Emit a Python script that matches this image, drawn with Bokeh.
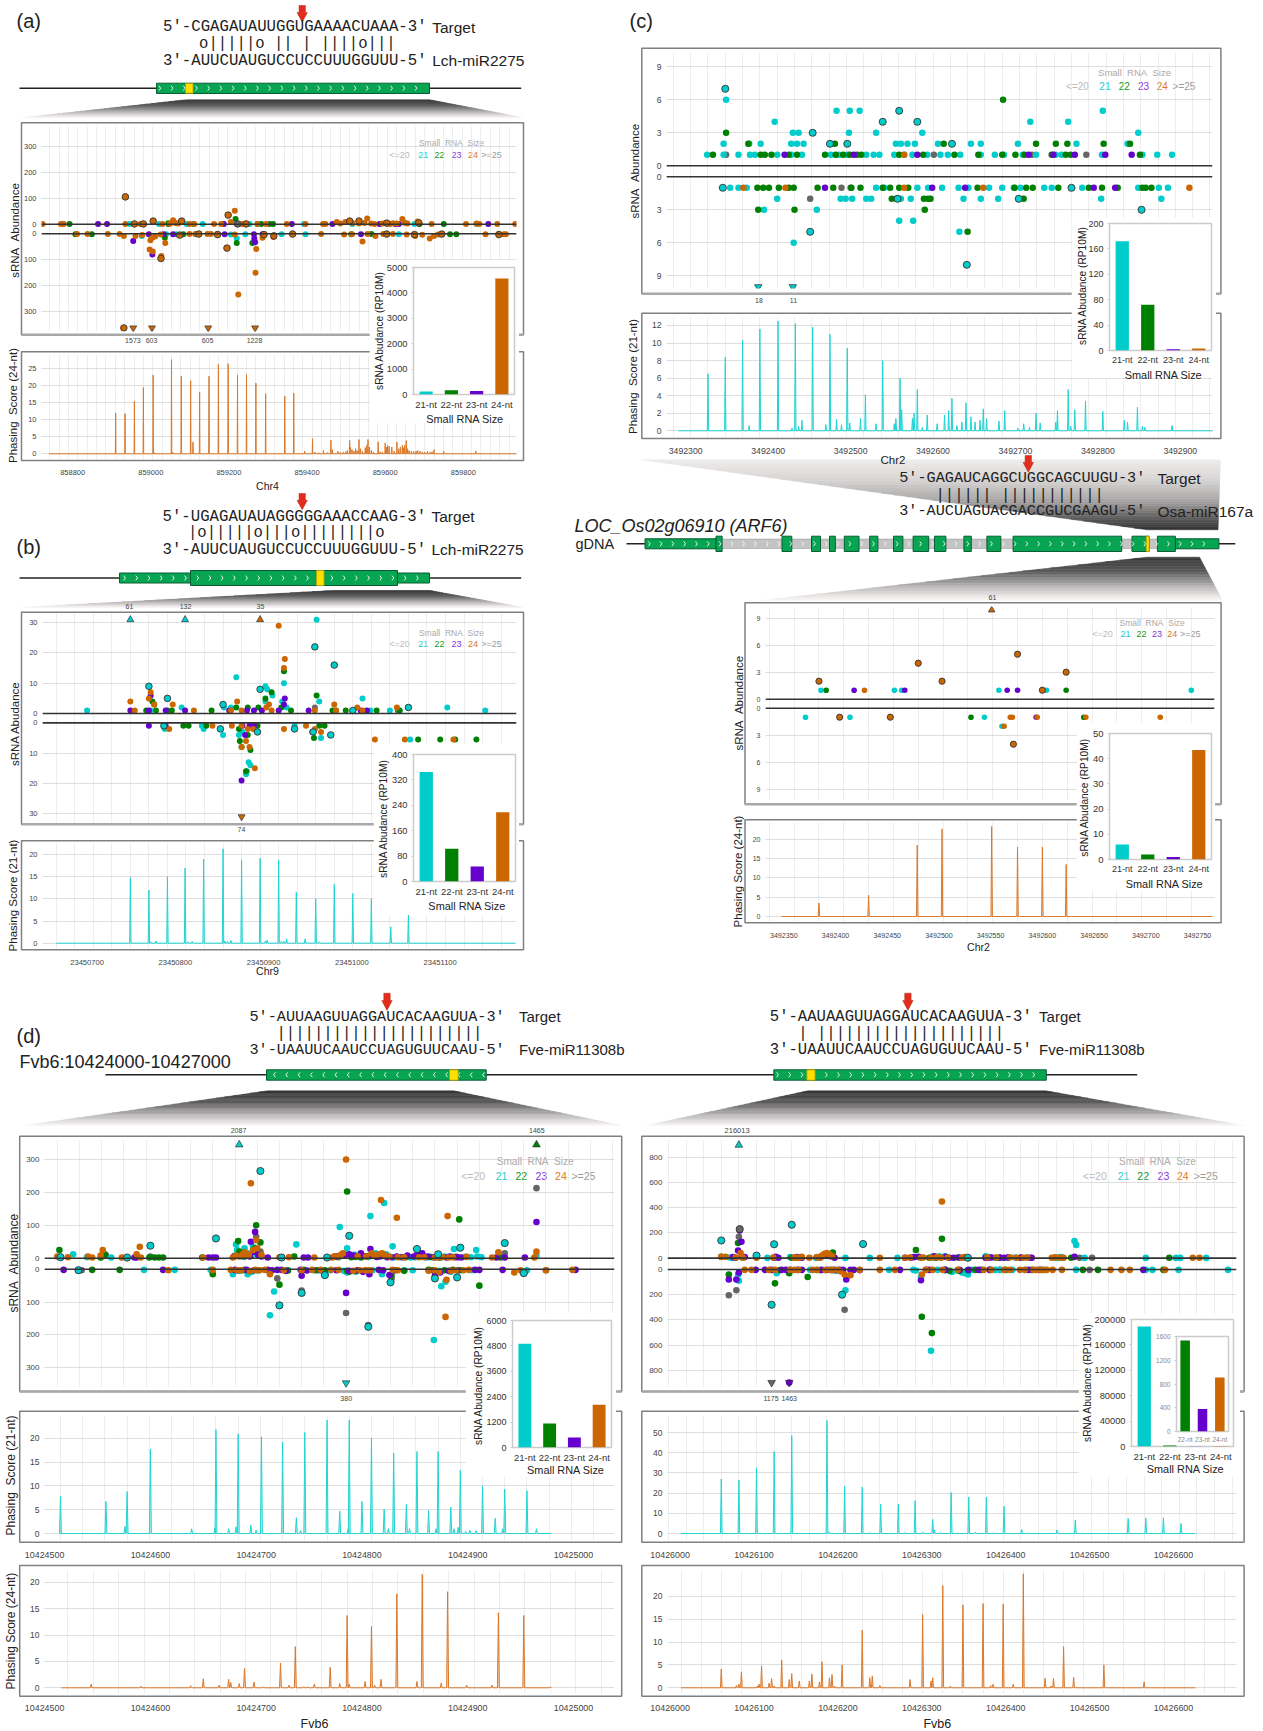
import math
import numpy as np
from bokeh.plotting import figure
from bokeh.models import GridBox, Range1d, FactorRange, FixedTicker, Span, Grid, BasicTickFormatter
from bokeh.core.properties import value
from bokeh.embed import file_html
from bokeh.resources import INLINE

# ------------------------------------------------------------------ data
sizes = ["21-nt", "22-nt", "23-nt", "24-nt"]
a_bars = [120, 170, 140, 4570]
b_bars = [345, 103, 47, 218]
c_bars = [172, 72, 2, 3]
c2_bars = [6, 2, 1, 43.5]
dl_bars = [4900, 1130, 470, 2020]
dr_bars = [189000, 1533, 378, 911]
dr_small_bars = [1533, 378, 911]

A_BASE, B_BASE, C_BASE, C2_BASE, DL_BASE, DR_BASE = 858615, 23450602, 3492219, 3492269, 10424458, 10425953

# panel (a): (bp offset, signed abundance), minus strand negative
a_21 = [(331,1),(406,1),(477,1),(518,1),(638,1),(777,1),(901,1),(1219,1),(1060,1),(362,-8),(424,-2),(450,-2),(605,-18),(627,-2),(720,-2),(781,-2),(1020,-2),(500,-2),(590,-3)]
a_22 = [(177,1),(430,1),(494,1),(658,1),(689,1),(698,1),(1135,1),(1073,1),(602,20),(668,1),(430,4),(192,-2),(234,-2),(421,-15),(468,-2),(605,-35),(645,-35),(898,-2),(1151,-2),(1167,-2),(950,-1),(1276,-2)]
a_23 = [(250,1),(273,1),(572,1),(746,1),(850,1),(971,1),(1011,1),(1020,1),(1249,1),(340,-28),(389,-80),(380,-2),(418,-2),(442,-2),(574,-2),(649,-2),(652,-32),(671,-2),(923,-2),(650,-18)]
a_24 = [(108,1),(155,1),(162,1),(320,1),(358,1),(415,1),(434,2),(442,15),(448,5),(455,3),(484,1),(496,1),(547,1),(565,1),(590,8),(600,52),(618,1),(658,1),(680,1),(733,1),(781,1),(826,1),(832,1),(861,8),(870,3),(883,8),(901,5),(918,3),(932,5),(939,22),(949,3),(958,1),(998,1),(1015,3),(1029,20),(1042,3),(1068,10),(1104,1),(1192,1),(1219,3),(1226,1),(1272,1),(1318,1),(1035,6),(978,3),(1005,4),
        (196,-1),(223,-1),(275,-1),(305,-1),(316,-8),(346,-8),(384,-25),(389,-15),(382,-60),(390,-68),(412,-85),(422,-35),(484,-1),(499,-1),(530,-1),(539,-1),(556,-1),(609,-233),(653,-150),(655,-58),(671,-15),(699,-12),(600,-3),(821,-1),(927,-30),(880,-3),(900,-2),(940,-1),(960,-8),(980,-1),(1005,-1),(1040,-3),(1062,-8),(1080,-4),(1099,-18),(1110,-8),(1120,-3),(1242,-2),(1289,-2),(1294,-2),(410,-3),(396,-10),(363,-5)]
a_gray = [(607,1)]
a_out = [(343,1,"24"),(366,1,"24"),(391,12,"24"),(464,12,"24"),(583,35,"24"),(320,105,"24"),(629,1,"24"),(894,12,"24"),(918,12,"24"),(607,1,"g"),(989,4,"24"),(1071,5,"24"),(411,-95,"24"),(580,-55,"24"),(459,-5,"24"),(508,-1,"24"),(556,-3,"24"),(675,-3,"24"),(700,-8,"24"),(748,-1,"24"),(989,-1,"24"),(1060,-3,"24"),(1130,-1,"24"),(1276,-3,"24"),(316,-362,"24")]
a_tri = [(340,-362,"24"),(388,-362,"24"),(532,-362,"24"),(652,-362,"24")]
a_phase = [(295,12),(319,11.8),(343,15.5),(366,19.5),(391,23.2),(438,27.7),(463,22.8),(487,21.5),(493,3.5),(510,18.2),(534,22.8),(558,26.3),(583,26.5),(607,23.2),(630,23.3),(654,20.8),(679,17.7),(728,17),(751,17.8),(779,.8),(799,4.5),(827,1),(846,4),(864,.8),(894,4),(896,2),(909,1.5),(918,4.2),(934,1.8),(941,4.2),(967,3.5),(985,3.2),(991,2.5),(1002,2),(1015,3.5),(1029,2.5),(1035,2.5),(1039,3.9),(1046,1),(1068,1),(1093,.7),(1110,1.2),(1135,.7),(1217,.8),(393,.4),(441,.5),
           (805,.5),(815,.3),(838,.4),(850,1.2),(870,.4),(878,.5),(884,.6),(888,1),(900,1.3),(905,.8),(913,1),(922,1.5),(927,.7),(938,2.5),(945,2),(950,1),(955,.5),(972,.6),(978,.5),(988,2),(995,2.2),(1008,.8),(1020,1.5),(1024,2),(1032,1.8),(1042,1.5),(1052,.8),(1058,.7),(1064,.8),(1074,.8),(1080,.5),(1086,.5),(1100,.5),(1105,.6)]

# panel (b)
b_21 = [(98,1),(170,1),(205,2),(253,2),(267,12),(261,2),(300,9),(302,8),(308,6),(300,4),(319,4),(321,10),(324,2),(361,4),(419,1),(441,1),(452,1),(506,2),(549,1),(358,31),(410,5),(186,-2),(228,-1),(230,-2),(270,-4),(274,-3),(279,-16),(281,-13),(283,-14),(278,-17),(333,-1),(353,-3),(363,-5),(464,-5.5),(252,-4)]
b_22 = [(165,1),(174,3),(176,1),(172,4),(189,1),(194,1),(239,1),(267,2),(280,2),(292,2),(300,5),(307,7),(318,2),(321,14),(329,1),(358,6),(376,1),(380,1),(391,1),(426,1),(452,1),(207,-1),(213,-1),(233,-1),(270,-2),(271,-6),(280,-4),(283,-9),(291,-1),(273,-8),(278,-16),(355,-5),(361,-1),(367,-1),(473,-5.5),(498,-5.5),(515,-5.5),(539,-5.5)]
b_23 = [(147,1),(168,1),(170,6),(187,1),(209,1),(259,1),(287,1),(279,1),(296,1),(315,1),(322,5),(321,3),(349,1),(408,1),(415,1),(168,-1),(187,-1),(274,-1),(282,-1),(287,-1),(273,-19),(277,-4)]
b_24 = [(147,4),(152,1),(168,5),(170,7),(174,3),(195,3),(219,1),(261,1),(268,4),(273,1),(304,3),(301,2),(307,1),(321,15),(322,18),(315,29),(356,1),(378,3),(380,1),(404,2),(410,1),(449,2),(191,-2),(240,-1),(262,-1),(273,-1),(280,-2),(286,-2),(288,-15),(273,-8),(278,-6),(282,-8),(321,-2),(346,-1),(356,-2),(363,-3),(424,-5.5),(458,-5.5),(513,-5.5)]
b_gray = [(356,2),(450,1)]
b_out = [(168,9,"21"),(378,16,"21"),(356,22,"21"),(189,5,"21"),(252,3,"21"),(294,8,"21"),(399,1,"21"),(462,2,"21"),(185,-1,"21"),(249,-2,"21"),(291,-3,"21"),(333,-2,"21"),(354,-3,"21"),(374,-4,"21")]
b_tri = [(147,31,"21"),(209,31,"21"),(294,31,"24"),(273,-31,"24")]
b_phase = [(147,14.8),(168,12),(189,15),(209,17),(230,19),(252,21.3),(273,18.8),(294,19.2),(315,18.8),(335,11.5),(357,10),(378,13.3),(399,11.2),(420,10),(442,3.7),(462,6.8),(170,.3),(176,.5),(212,.3),(217,.4),(254,.5),(257,.4),(261,.6),(300,.5),(302,.7),(318,.4),(321,.4),(324,1),(345,1),(349,.2),(361,.3)]

# panel (c) upper
c_21 = [(107,1),(127,1),(145,1),(159,1),(165,1),(192,1),(209,1),(222,1),(257,1),(267,1),(277,1),(300,1),(309,1),(316,1),(334,1),(346,1),(356,1),(374,1),(390,1),(399,1),(414,1),(439,1),(456,1),(467,1),(490,1),(506,1),(530,1),(537,1),(586,1),(635,1),(653,1),(671,1),
        (127,2),(172,2),(209,2),(216,2),(224,2),(336,2),(342,2),(350,2),(359,2),(387,2),(427,2),(439,2),(484,2),(555,2),(617,2),(158,2),(211,3),(218,3),(279,3),(312,3),(368,3),(630,3),(189,4),(499,4),(545,4),(264,5),(280,5),(292,5),(587,5),(130,6),
        (135,-1),(145,-1),(155,-1),(312,-1),(322,-1),(362,-1),(392,-1),(412,-1),(424,-1),(449,-1),(465,-1),(479,-1),(487,-1),(516,-1),(525,-1),(562,-1),(630,-1),(655,-1),(666,-1),(375,-1),
        (192,-2),(269,-2),(275,-2),(283,-2),(300,-2),(306,-2),(342,-2),(354,-2),(418,-2),(439,-2),(460,-2),(585,-2),(658,-2),(176,-3),(240,-3),(340,-4),(357,-4),(413,-5),(212,-6)]
c_22 = [(114,1),(172,1),(177,1),(185,1),(206,1),(216,1),(250,1),(263,1),(272,1),(280,1),(289,1),(294,1),(340,1),(369,1),(407,1),(436,1),(465,1),(481,1),(492,1),(525,1),(542,1),(548,1),(632,1),(157,2),(262,2),(394,2),(506,2),(530,2),(544,2),(588,2),(620,2),(130,3),(466,6),
        (168,-1),(175,-1),(182,-1),(194,-1),(206,-1),(212,-1),(241,-1),(260,-1),(282,-1),(293,-1),(320,-1),(329,-1),(340,-1),(351,-1),(435,-1),(480,-1),(494,-1),(502,-1),(533,-1),(570,-1),(586,-1),(605,-1),(635,-1),(639,-1),(646,-1),
        (331,-2),(337,-2),(370,-2),(375,-2),(378,-2),(491,-2),(169,-3),(213,-3),(371,-3),(423,-5)]
c_23 = [(201,1),(362,1),(497,1),(527,1),(553,1),(590,1),(622,1),(285,1),(250,-1),(420,-1),(380,-1),(576,-1),(602,-1)]
c_24 = [(346,1),(151,-1),(202,-1),(346,-1),(442,-1),(692,-1)]
c_gray = [(130,1),(382,1),(501,1),(567,1),(270,-1),(281,-1),(232,-2)]
c_out = [(256,2,"21"),(277,2,"21"),(404,2,"21"),(235,3,"21"),(320,4,"21"),(362,4,"21"),(340,5,"21"),(129,7,"21"),(126,-1,"21"),(549,-1,"21"),(485,-2,"21"),(338,-2,"21"),(634,-3,"21"),(232,-5,"21"),(422,-8,"21")]
c_tri = [(169,-10,"21"),(211,-10,"21")]
c_phase = [(108,6.5),(129,8.4),(150,10.3),(158,.6),(171,11.6),(193,12.5),(214,12.2),(210,.3),(218,.5),(222,1.2),(235,11.8),(251,.7),(256,11),(264,1.3),(270,.7),(277,9.4),(280,.9),(293,1.4),(299,4.1),(312,.8),(320,8),(334,.8),(336,1.4),(341,6),(343,2.4),(356,1.4),(358,2),(362,4.7),(368,.4),(374,1.8),(386,.8),(395,1.8),(400,2.3),(404,3.7),(410,.6),(416,1),(421,3.2),(427,1.6),(432,1),(438,1.2),(442,2.5),(446,1.4),(461,1.1),(468,2.3),(484,.3),(491,.8),(498,.4),(506,2),(511,.9),(530,1),(532,2.3),(545,4.7),(548,.5),(553,2.4),(566,3.4),(587,2.2),(613,1.2),(617,1),(629,2.7),(635,.5),(638,.4),(671,.6)]

# panel (c) lower gene
c2_21 = [(117,1),(188,1),(195,1),(289,1),(335,1),(475,1),(102,-1),(145,-1),(275,-1),(292,-2)]
c2_22 = [(122,1),(354,1),(262,-1),(371,-1)]
c2_23 = [(149,1),(198,1),(297,1),(307,1),(325,-1)]
c2_24 = [(159,1),(300,-1),(302,-1),(294,-2),(326,-1),(373,-1),(445,-1)]
c2_gray = []
c2_out = [(115,2,"24"),(211,4,"24"),(234,2,"24"),(307,5,"24"),(331,1,"24"),(354,3,"24"),(135,-1,"24"),(184,-1,"24"),(303,-4,"24")]
c2_tri = [(282,9.9,"24")]
c2_phase = [(115,3.5),(163,5.5),(210,18.5),(234,22.7),(282,23.3),(307,18),(331,18),(354,13.5)]

# panel (d) left
dl_21 = [(69,12),(82,3),(105,2),(224,25),(231,30),(223,42),(239,35),(280,42),(321,95),(328,30),(350,128),(363,168),(355,15),(371,36),(372,2),(388,2),(403,2),(429,28),(450,25),(451,5),(507,8),
         (222,8),(226,12),(229,5),(234,15),(238,10),(244,8),(320,3),(325,8),(335,10),(340,5),(348,4),(356,5),(360,8),(365,12),(378,3),(384,4),(392,3),(398,4),(408,3),(412,3),(420,5),(427,4),(440,4),(445,3),(455,3),
         (74,-3),(136,-2),(165,-2),(199,-2),(220,-15),(234,-15),(259,-68),(255,-140),(301,-3),(307,-15),(361,-15),(328,-10),(382,-3),(390,-3),(417,-52),(421,-38),(410,-215),(446,-3),(498,-3),
         (226,-5),(238,-8),(245,-3),(272,-3),(297,-3),(312,-3),(325,-5),(336,-8),(352,-3),(415,-5),(426,-8),(436,-3)]
dl_22 = [(56,25),(99,12),(95,2),(141,2),(146,2),(150,2),(154,2),(191,2),(225,52),(242,100),(246,48),(231,5),(241,30),(278,5),(266,2),(328,203),(332,3),(341,2),(434,118),(415,2),(473,2),
         (226,20),(234,8),(243,18),(319,4),(336,4),(347,6),(366,4),(383,3),(406,4),(416,3),(431,4),
         (74,-3),(87,-2),(113,-2),(201,-15),(231,-2),(264,-47),(287,-2),(307,-3),(328,-5),(370,-20),(382,-5),(405,-2),(428,-2),(453,-50),
         (229,-3),(243,-3),(272,-4),(299,-3),(330,-8),(337,-5),(374,-3),(409,-3),(420,-3),(434,-3)]
dl_23 = [(127,2),(129,2),(197,2),(201,2),(204,2),(237,50),(241,80),(247,5),(253,2),(287,2),(291,2),(326,10),(341,15),(350,28),(359,5),(366,3),(380,3),(394,10),(399,15),(422,2),(436,2),(469,2),(477,2),(496,2),(507,110),
         (221,5),(228,8),(232,12),(236,5),(240,20),(244,10),(318,5),(330,12),(334,8),(344,6),(352,8),(356,4),(362,10),(370,3),(375,5),(385,8),(391,5),(404,5),(410,3),(416,4),(425,5),(430,3),(433,3),
         (60,-2),(154,-2),(253,-2),(266,-2),(285,-20),(284,-2),(349,-15),(358,-2),(368,-18),(411,-20),(453,-2),(475,-2),(544,-2),(327,-72),(222,-2),(233,-2),(262,-2),
         (224,-3),(240,-3),(257,-3),(270,-5),(290,-4),(303,-3),(318,-3),(330,-5),(338,-3),(343,-8),(362,-3),(372,-3),(412,-8),(416,-10),(424,-5),(432,-3),(449,-2)]
dl_24 = [(54,5),(64,3),(83,5),(87,2),(97,25),(95,8),(115,2),(129,12),(132,35),(133,2),(192,2),(220,2),(226,5),(233,8),(237,228),(242,55),(247,10),(264,3),(273,3),(297,2),(314,2),(320,5),(327,300),(322,10),(351,15),(361,15),(360,177),(375,123),(376,3),(401,3),(423,128),(411,2),(424,2),(465,2),(471,18),(507,20),(505,2),
         (223,8),(229,10),(231,18),(235,10),(239,25),(243,30),(316,6),(324,15),(338,6),(346,5),(354,8),(358,12),(364,8),(368,5),(382,3),(396,3),(414,3),(418,3),(428,3),(441,4),
         (159,-3),(201,-2),(218,-2),(224,-3),(241,-2),(255,-15),(295,-2),(313,-2),(320,-2),(345,-3),(347,-3),(371,-2),(411,-3),(421,-145),(422,-32),(438,-3),(486,-10),(492,-3),(516,-3),(541,-2),
         (228,-3),(236,-6),(245,-3),(250,-2),(268,-3),(285,-3),(303,-2),(334,-5),(340,-3),(350,-3),(376,-3),(405,-5),(415,-8),(426,-5),(431,-3),(443,-2)]
dl_gray = [(100,8),(142,5),(225,15),(242,65),(246,20),(394,5),(477,15),(507,213),(77,-3),(262,-28),(285,-65),(327,-133),(348,-170),(370,-30),(516,-3)]
dl_out = [(57,3,"21"),(120,2,"21"),(142,38,"21"),(204,60,"21"),(246,265,"21"),(266,2,"21"),(309,2,"21"),(330,68,"21"),(394,28,"21"),(414,12,"21"),(435,32,"21"),(477,46,"21"),(285,-72,"21"),(264,-110,"21"),(348,-175,"21"),(369,-40,"21"),(411,-28,"21"),(432,-25,"21"),(307,-18,"21"),(495,-12,"21"),(74,-3,"21")]
dl_tri = [(226,345,"21"),(507,345,"22"),(327,-346,"21")]
dl_p21 = [(57,7.8),(100,6.7),(118,1.5),(120,8.8),(142,17.7),(181,1),(203,1.2),(204,21.8),(216,1),(223,1.4),(225,20.9),(237,1.8),(242,.7),(247,20.3),(267,19.2),(280,3.3),(284,.6),(288,21.2),(309,23.8),(321,4.7),(329,1),(330,23.8),(342,6.7),(351,20),(363,5.1),(367,1),(372,16.9),(384,6.1),(387,1),(394,17.2),(405,4.8),(412,1),(414,17.2),(426,5.5),(429,1),(433,1.3),(435,13.3),(440,.4),(444,.7),(450,.6),(456,10),(468,3.2),(475,1),(477,9.3),(498,9),(507,1)]
dl_p24 = [(86,.7),(133,.3),(180,.4),(192,1.7),(207,.5),(216,1.6),(218,1),(226,.8),(231,3.7),(240,1.1),(249,.2),(265,4.7),(273,.5),(279,7.8),(287,.2),(291,.2),(297,.7),(312,3.9),(321,.8),(328,13.7),(330,.7),(345,1.2),(351,11.6),(354,.5),(360,1.6),(375,17.8),(394,1.2),(399,21.5),(417,.9),(423,18.2),(441,.5),(465,.5),(471,14.2),(495,13.7),(520,.2)]

# panel (d) right
dr_21 = [(121,2),(163,2),(221,2),(256,2),(285,2),(318,2),(375,15),(423,15),(509,2),(529,135),(531,105),(541,2),(614,2),(650,2),(655,2),(686,2),
         (118,5),(190,8),(229,15),(236,18),(345,5),(360,12),(368,15),(398,5),(428,8),(458,5),(472,5),(505,3),(512,8),
         (128,-40),(129,-90),(174,-30),(256,-165),(358,-645),(346,-60),(337,-3),(366,-3),(383,-20),(399,-30),(435,-3),(455,-3),(531,-3),(614,-3),(622,-3),(653,-3),(712,-3),(214,-3),(308,-3),
         (175,-10),(222,-3),(238,-3),(245,-10),(340,-8),(375,-5),(390,-10),(395,-25),(402,-40),(398,-20),(408,-3),(440,-3),(470,-3)]
dr_22 = [(108,10),(128,120),(241,45),(371,153),(340,65),(356,3),(435,3),(525,3),(642,3),(192,3),(133,5),(200,5),(237,25),(365,5),(390,5),(440,3),(450,3),(465,3),(515,3),
         (117,-40),(172,-110),(189,-30),(211,-60),(347,-375),(359,-505),(380,-10),(402,-5),(411,-3),(539,-3),(557,-3),(635,-3),
         (178,-5),(226,-5),(240,-5),(250,-5),(375,-3),(392,-10),(418,-3),(428,-3),(447,-3),(478,-3),(490,-3)]
dr_23 = [(130,220),(132,130),(128,60),(125,3),(171,3),(176,3),(204,3),(243,3),(327,3),(334,3),(423,3),(445,3),(476,3),(529,10),(380,3),(385,3),(426,3),
         (122,8),(136,8),(173,10),(198,8),(225,6),(232,25),(238,15),(338,8),(343,10),(362,15),(375,10),(392,5),(430,5),(440,5),(450,6),(465,5),(478,3),
         (117,-80),(126,-80),(129,-25),(149,-3),(168,-3),(180,-3),(185,-3),(204,-3),(228,-3),(248,-3),(257,-80),(266,-3),(273,-5),(321,-3),(346,-85),(356,-3),(392,-3),(428,-3),(474,-3),(611,-3),(189,-898),
         (160,-3),(190,-3),(199,-3),(234,-3),(243,-3),(253,-3),(262,-3),(352,-3),(375,-3),(403,-3),(415,-3),(487,-3)]
dr_24 = [(108,10),(150,3),(131,40),(134,3),(195,3),(200,3),(213,3),(226,3),(234,40),(231,35),(297,3),(346,3),(358,3),(371,450),(370,3),(395,3),(460,3),(468,3),(502,3),(516,3),(670,3),(678,3),(327,3),
         (113,10),(125,5),(170,5),(196,5),(204,10),(222,8),(228,20),(237,30),(240,15),(333,5),(349,5),(365,8),(378,5),(398,8),(425,6),(436,5),(452,6),(473,5),(506,6),(511,3),
         (136,-3),(190,-3),(217,-3),(241,-3),(255,-40),(262,-45),(273,-3),(297,-3),(315,-3),(347,-40),(421,-3),(445,-3),(464,-3),(496,-3),(503,-3),(514,-3),(572,-3),(585,-3),(595,-3),(637,-3),(488,-3),
         (144,-3),(165,-3),(172,-3),(195,-3),(200,-3),(222,-3),(232,-5),(238,-3),(247,-5),(250,-15),(352,-3),(360,-3),(372,-3),(390,-3),(430,-3),(452,-3),(470,-3),(480,-3),(483,-3),(493,-3)]
dr_gray = [(129,170),(535,3),(550,3),(363,3),(117,-205),(126,-165),(255,-320),(547,-3),(440,-3)]
dr_out = [(108,140,"21"),(171,110,"21"),(192,265,"21"),(277,112,"21"),(150,20,"21"),(402,3,"21"),(168,-280,"21"),(252,-200,"21"),(130,230,"g")]
dr_tri = [(129,898,"21"),(168,-898,"g"),(189,-898,"23")]
dr_p21 = [(108,27),(129,26.5),(150,32.5),(171,40.5),(192,48.5),(234,56),(237,.8),(255,23.5),(276,23),(285,.5),(298,14.5),(319,14.5),(327,.5),(339,16.3),(348,.8),(360,7),(362,1.8),(369,.5),(382,20.3),(403,18),(411,.7),(424,18),(432,.4),(445,13.5),(466,2),(474,.3),(508,1.7),(530,6.7),(593,7.5),(614,7.7),(635,7.8),(656,5)]
dr_p24 = [(108,4.1),(126,.5),(129,.8),(132,3.5),(151,.4),(153,.8),(156,4.8),(165,1),(168,2),(171,.4),(180,6.1),(189,1.8),(192,3.1),(201,1.5),(213,1.5),(216,3),(225,1.3),(228,5.7),(237,2.2),(240,2.9),(243,.4),(252,5),(276,12.6),(285,2.2),(288,2.6),(297,.5),(333,1.8),(348,16),(358,1.5),(360,2.2),(372,22.3),(381,.4),(396,18.1),(420,18.4),(429,.5),(432,.8),(444,18.3),(456,.8),(468,24.9),(494,2.1),(501,.4),(504,2),(516,9),(528,2.3),(564,5),(612,1.3)]

# ------------------------------------------------------------------ styles
COL = {"21": "#00cccc", "22": "#008000", "23": "#6600cc", "24": "#cc6600", "g": "#666666"}
SANS = "Liberation Sans"
MONO = "Liberation Mono"
PHASE_CYAN = "#22d4d4"
PHASE_ORANGE = "#d97a2e"
NB = "\u00a0\u00a0"
figs = []

# ------------------------------------------------------------------ page layer
def sheet():
    f = figure(width=1263, height=1731, x_range=Range1d(0, 1263), y_range=Range1d(1731, 0),
               output_backend="svg", toolbar_location=None, min_border=0, outline_line_color=None, frame_align=False,
               background_fill_color=None, border_fill_color=None)
    f.axis.visible = False
    f.grid.visible = False
    figs.append((f, 0, 0))
    return f

page = sheet()

def T(x, y, s, size=10, color="#222222", font=SANS, align="left", angle=0, style="normal", on=None):
    (on or page).text([x], [y], text=[s], text_font=value(font), text_font_size=f"{size}px", text_color=color,
                      text_align=align, text_baseline="middle", angle=angle, text_font_style=style)

def VT(x, y, s, size=11.5):
    T(x, y, s, size=size, align="center", angle=math.pi / 2)

def funnel(tl, tr, bl, br, yt, yb, stops, n=28):
    sx = np.array([s[0] for s in stops]); 
    for i in range(n):
        f0, f1 = i / n, (i + 1) / n
        y0, y1 = yt + (yb - yt) * f0, yt + (yb - yt) * f1
        l0, l1 = tl + (bl - tl) * f0, tl + (bl - tl) * f1
        r0, r1 = tr + (br - tr) * f0, tr + (br - tr) * f1
        g = np.interp((f0 + f1) / 2, sx, [s[1] for s in stops])
        c = "#%02x%02x%02x" % (int(g), int(g * .985), int(g * .985))
        page.patch([l0, r0, r1, l1], [y0, y0, y1, y1], fill_color=c, line_color=c, line_width=.5)

FUN = [(0, 52), (.35, 95), (.7, 185), (1, 250)]

def red_arrow(x, y0, y1):
    h = y1 - y0
    page.patch([x - 3.2, x + 3.2, x + 3.2, x + 5.2, x, x - 5.2, x - 3.2],
               [y0, y0, y0 + h * .42, y0 + h * .42, y1, y0 + h * .42, y0 + h * .42],
               fill_color="#e22d1c", line_color="#b5281c", line_width=.5)

def seq(x, ys, lines, pair_x, tx, names, size, pair_size=15.6, name_size=15.5):
    T(x, ys[0], lines[0], size=size, font=MONO, color="#222222")
    T(pair_x, ys[1], lines[1], size=pair_size, font=MONO, color="#222222")
    T(x, ys[2], lines[2], size=size, font=MONO, color="#222222")
    T(tx, ys[0], names[0], size=name_size)
    T(tx, ys[2], names[1], size=name_size)

def gene_line(x0, x1, y):
    page.line([x0, x1], [y, y], line_color="#222222", line_width=1.5)

def exon(x0, x1, y0, y1, fill="#07a552"):
    page.quad(left=[x0], right=[x1], top=[y0], bottom=[y1], fill_color=fill, line_color="#0a5c36", line_width=1)

def chev(x0, x1, y, step, right=True, h=2.4, w=1.8):
    xs, ys = [], []
    for cx in np.arange(x0, x1, step):
        d = w if right else -w
        xs.append([cx - d / 2, cx + d / 2, cx - d / 2])
        ys.append([y - h, y, y + h])
    page.multi_line(xs, ys, line_color="#ffffff", line_width=.9)

def yellow(x0, x1, y0, y1):
    page.quad(left=[x0], right=[x1], top=[y0], bottom=[y1], fill_color="#ffdf00", line_color="#b8a000", line_width=.8)

def box(l, r, t, b, thick=False):
    page.quad(left=[l], right=[r], top=[t], bottom=[b], fill_color=None, line_color="#808080", line_width=1.5)
    if thick:
        page.line([l, r], [b, b], line_color="#a8a8a8", line_width=2.6)

def legend(cx, ty, ly, xs, size):
    T(cx, ty, f"Small{NB}RNA{NB}Size", size=size, color="#aaaaaa", align="center")
    labs = ["<=20", "21", "22", "23", "24", ">=25"]
    cols = ["#bbbbbb", "#22cccc", "#119911", "#8833dd", "#dd7722", "#999999"]
    for x, s, c in zip(xs, labs, cols):
        T(x, ly, s, size=size + .5, color=c, align="center")

def small(x, y, s, size=7):
    T(x, y, s, size=size, color="#444444", align="center")

# ---- (a)
T(16, 20, "(a)", size=20)
red_arrow(301.7, 5, 21.7)
seq(162.5, (26.7, 43.3, 60), ("5'-CGAGAUAUUGGUGAAAACUAAA-3'", "o|||||o || | ||||o|||", "3'-AUUCUAUGUCCUCCUUUGGUUU-5'"), 198.6, 431.7, ("Target", "Lch-miR2275"), 15.7)
gene_line(19, 520.7, 87.7); exon(156, 429, 82.7, 93); chev(159.3, 425, 87.7, 12.2); yellow(185, 192.5, 83, 92.7)
funnel(186, 429, 21, 523, 99.3, 117.3, FUN)
T(267, 485, "Chr4", size=10.5, align="center")
VT(14.5, 230, f"sRNA{NB}Abundance"); VT(12.8, 405, f"Phasing{NB}Score (24-nt)")
box(21, 523, 122.3, 334.3, True); box(21, 523, 351.3, 460)
legend(451, 142.7, 154.7, [399, 422.8, 439, 456, 472.4, 491], 8.5)
for x, s in [(132.4, "1573"), (151, "603"), (207, "605"), (254, "1228")]:
    small(x, 340.3, s)

# ---- (b)
T(16, 546, "(b)", size=20)
red_arrow(301.7, 493, 509.3)
seq(162, (516, 532.5, 549), ("5'-UGAGAUAUAGGGGGAAACCAAG-3'", "|o|||||o|||o||||||||o", "3'-AUUCUAUGUCCUCCUUUGGUUU-5'"), 187.5, 431, ("Target", "Lch-miR2275"), 15.7)
gene_line(19, 520.7, 577.5); exon(119, 429, 572.5, 582.5); exon(190, 397, 570, 585); chev(124, 425, 577.5, 12.2); yellow(316, 323.5, 570, 585)
funnel(334, 429, 21, 523, 590, 607, FUN)
for x, s in [(129, "61"), (185, "132"), (260, "35")]:
    small(x, 606, s)
small(241, 829.3, "74")
T(267, 970, "Chr9", size=10.5, align="center")
VT(14.5, 723, "sRNA Abudance"); VT(12.8, 895, "Phasing Score (21-nt)")
box(21, 523, 611.7, 823.7, True); box(21, 523, 840.3, 949.3)
legend(451, 632.7, 643.7, [399, 422.8, 439, 456, 472.4, 491], 8.5)

# ---- (c)
T(629, 20, "(c)", size=20)
VT(634.8, 170.7, f"sRNA{NB}Abundance"); VT(632.3, 376, f"Phasing{NB}Score (21-nt)")
box(641.3, 1220.4, 47.7, 293.3, True); box(641.3, 1220.4, 312.7, 438)
legend(1134, 71.7, 85.7, [1077, 1104.4, 1123.7, 1143, 1161.8, 1183.5], 9.5)
small(758.5, 300, "18"); small(793, 300, "11")
funnel(640.5, 1220, 1146.6, 1217.5, 459.3, 529.3, [(0, 240), (.3, 215), (.6, 165), (.85, 90), (1, 50)], n=40)
T(892.5, 459, "Chr2", size=11.5, align="center")
red_arrow(1027.8, 455, 471.7)
seq(898.7, (477.7, 495, 510.7), ("5'-GAGAUCAGGCUGGCAGCUUGU-3'", "|||||| |||||||||||", "3'-AUCUAGUACGACCGUCGAAGU-5'"), 935, 1157, ("Target", "Osa-miR167a"), 15.2)
T(574, 525, "LOC_Os02g06910 (ARF6)", size=18, style="italic")
T(575, 543, "gDNA", size=14.5)
gene_line(626, 1234.8, 543.3)
page.quad(left=[644.6], right=[1218], top=[538.6], bottom=[548], fill_color="#c4c4c4", line_color="#a0a0a0", line_width=.6)
exon(644.6, 715.5, 538.3, 548.3); exon(1174.9, 1218.4, 538.3, 548.3)
for l, r in [(715.5, 721.6), (781.5, 791.3), (811, 820), (829, 834.8), (843.8, 858.5), (869.2, 877.4), (893, 902.4), (912.6, 928.2), (934, 945.4), (963.4, 970.8), (986.4, 1000.3), (1012.6, 1121.2), (1131.5, 1148.7), (1156.9, 1174.9)]:
    exon(l, r, 535.7, 551)
chev(648.7, 1215, 543.3, 11.8)
yellow(1145.8, 1148.7, 535.7, 551)
funnel(1146.6, 1199, 760, 1222, 556.7, 600, [(0, 52), (.35, 95), (.7, 190), (1, 252)])

# ---- (c) lower
small(992, 597.3, "61")
VT(738.8, 702.7, f"sRNA{NB}Abundance"); VT(737, 871, "Phasing Score (24-nt)")
box(744.5, 1220.6, 602.3, 803.7, True); box(744.5, 1220.6, 819.3, 922.3)
legend(1151.7, 622, 633, [1102, 1125, 1141, 1156.4, 1171.8, 1189.8], 8.5)
T(978, 946, "Chr2", size=10.5, align="center")

# ---- (d)
T(16, 1035, "(d)", size=20)
T(19, 1061.7, "Fvb6:10424000-10427000", size=18)
red_arrow(386.5, 992.7, 1010); red_arrow(907.4, 992.7, 1010)
seq(249, (1016, 1033.3, 1049.3), ("5'-AUUAAGUUAGGAUCACAAGUUA-3'", "||||||||||||||||||||||", "3'-UAAUUCAAUCCUAGUGUUCAAU-5'"), 276, 518.4, ("Target", "Fve-miR11308b"), 15.2, name_size=15)
seq(769.3, (1016, 1033.3, 1049.3), ("5'-AAUAAGUUAGGAUCACAAGUUA-3'", "| ||||||||||||||||||||", "3'-UAAUUCAAUCCUAGUGUUCAAU-5'"), 797.7, 1038.6, ("Target", "Fve-miR11308b"), 15.6, name_size=15)
gene_line(105, 1136.7, 1074.3)
exon(266, 485.7, 1069.3, 1079.7); chev(274, 484, 1074.3, 12.3, right=False); yellow(449, 457.6, 1069.3, 1079.7)
exon(773.3, 1045.8, 1069.3, 1079.7); chev(777, 1034, 1074.3, 12.2); yellow(806.4, 814.5, 1069.3, 1079.7)
funnel(267.3, 453, 24.5, 621, 1090.3, 1125, FUN)
funnel(807.6, 1045, 646, 1243, 1090.3, 1125, FUN)
box(19.2, 621.2, 1135.7, 1391, True); box(19.2, 621.2, 1410.7, 1541.7); box(19.2, 621.2, 1565, 1695.7)
box(641.3, 1243.6, 1135.7, 1391, True); box(641.3, 1243.6, 1410.7, 1541.7); box(641.3, 1243.6, 1565, 1695.7)
VT(13, 1262.7, f"sRNA{NB}Abundance", 12); VT(10.6, 1475, f"Phasing{NB}Score (21-nt)", 12); VT(10.6, 1630.7, "Phasing Score (24-nt)", 12)
legend(534.7, 1160.7, 1175, [472.7, 501, 520.8, 540.8, 560.4, 582.9], 10)
legend(1156.9, 1160.7, 1175, [1094.3, 1123, 1142.7, 1162.9, 1182.3, 1205.3], 10)
small(238, 1129.7, "2087"); small(536.3, 1129.7, "1465"); small(345.7, 1397.7, "380")
small(736.6, 1129.7, "216013", 7.5); small(770.5, 1397.7, "1175"); small(788.7, 1397.7, "1463")
T(314, 1723, "Fvb6", size=12.5, align="center"); T(936.8, 1723, "Fvb6", size=12.5, align="center")

# ------------------------------------------------------------------ panels
ML, MT, MR, MB = 40, 4, 4, 24

def base_fig(l, r, t, b, xr, yr):
    l, r, t, b = round(l), round(r), round(t), round(b)
    p = figure(width=r - l + ML + MR, height=b - t + MT + MB, x_range=xr, y_range=yr,
               output_backend="svg", toolbar_location=None, frame_align=False,
               min_border_left=ML, min_border_top=MT, min_border_right=MR, min_border_bottom=MB,
               background_fill_color=None, border_fill_color=None, outline_line_color=None)
    figs.append((p, l - ML, t - MT))
    return p, l, r, t, b

def x_rng(l, r, cal):
    (pa, va), (pb, vb) = cal
    k = (vb - va) / (pb - pa)
    return Range1d(va + (l - pa) * k, va + (r - pa) * k)

def style_y(p, ticks, fsize, overrides=None):
    ax = p.yaxis[0]
    ax.ticker = FixedTicker(ticks=ticks)
    ax.axis_line_color = None; ax.major_tick_line_color = None; ax.minor_tick_line_color = None
    ax.major_tick_out = 0; ax.major_tick_in = 0
    ax.major_label_text_font_size = f"{fsize}px"; ax.major_label_text_color = "#444444"
    ax.major_label_text_font = SANS; ax.major_label_standoff = 5
    if overrides: ax.major_label_overrides = overrides

def grids(p, ticks_x, ticks_y):
    for g in list(p.xgrid) + list(p.ygrid):
        g.visible = False
    p.add_layout(Grid(dimension=0, ticker=FixedTicker(ticks=ticks_x), grid_line_color="#dcdcdc", grid_line_dash="1 1", grid_line_width=1))
    p.add_layout(Grid(dimension=1, ticker=FixedTicker(ticks=ticks_y), grid_line_color="#bdbdbd", grid_line_dash="1 1", grid_line_width=1))

def scatter_panel(frame, cal, center, k, G, tick_vals, fsize, base, g0, step, data, out, tri, size):
    l, r, t, b = frame
    xr = x_rng(round(l), round(r), cal)
    yr = Range1d((center - round(b)) / k, (center - round(t)) / k)
    p, l, r, t, b = base_fig(l, r, t, b, xr, yr)
    ticks = [v + G for v in tick_vals] + [-(v + G) for v in tick_vals]
    style_y(p, ticks, fsize, {v + G: str(v) for v in tick_vals} | {-(v + G): str(v) for v in tick_vals})
    p.xaxis.visible = False
    gx = [base + v for v in np.arange(g0, xr.end - base, step)]
    grids(p, gx, ticks)
    fold = lambda v: v + G if v > 0 else v - G
    p.add_layout(Span(location=G, dimension="width", line_color="#333333", line_width=1.6))
    p.add_layout(Span(location=-G, dimension="width", line_color="#333333", line_width=1.6))
    for key, pts in data:
        if pts:
            p.scatter([base + a for a, _ in pts], [fold(v) for _, v in pts], size=size, marker="circle",
                      fill_color=COL[key], line_color=None)
    for a, v, key in out:
        p.scatter([base + a], [fold(v)], size=size + .6, marker="circle", fill_color=COL[key], line_color="#333333", line_width=.9)
    for a, v, key in tri:
        p.scatter([base + a], [fold(v)], size=size + 1, marker="triangle" if v > 0 else "inverted_triangle",
                  fill_color=COL[key], line_color="#333333", line_width=.7)
    return p

def phase_panel(frame, cal, py0, k, tick_vals, xticks, xfsize, yfsize, base, g0, step, spikes, end, start, color, hw=.8):
    l, r, t, b = frame
    xr = x_rng(round(l), round(r), cal)
    yr = Range1d((py0 - round(b)) / k, (py0 - round(t)) / k)
    p, l, r, t, b = base_fig(l, r, t, b, xr, yr)
    style_y(p, tick_vals, yfsize)
    ax = p.xaxis[0]
    ax.ticker = FixedTicker(ticks=xticks)
    ax.formatter = BasicTickFormatter(use_scientific=False)
    ax.axis_line_color = None; ax.major_tick_line_color = None; ax.minor_tick_line_color = None
    ax.major_label_text_font_size = f"{xfsize}px"; ax.major_label_text_color = "#444444"
    ax.major_label_text_font = SANS; ax.major_label_standoff = 5
    gx = [base + v for v in np.arange(g0, xr.end - base, step)]
    grids(p, gx, tick_vals)
    xs, ys = [base + start], [0]
    for a, v in sorted(spikes):
        xs += [base + a - hw, base + a, base + a + hw]
        ys += [0, v, 0]
    xs.append(base + end); ys.append(0)
    p.line(xs, ys, line_color=color, line_width=1)
    p.varea(xs, [0] * len(xs), ys, fill_color=color, fill_alpha=.35)
    return p

inset_titles = []

def inset(block, frame, ymax, ticks, vals, tick_size=9.3, cat_size=9.5, cats=sizes, titles=None, color=None, outline="#cccccc", label_color="#333333", barw=.52):
    bl, br, bt, bb = [round(v) for v in block]
    fl, fr, ft, fb = [round(v) for v in frame]
    p = figure(width=br - bl, height=bb - bt, x_range=FactorRange(*cats), y_range=Range1d(0, ymax),
               output_backend="svg", toolbar_location=None, frame_align=False,
               min_border_left=fl - bl, min_border_right=br - fr, min_border_top=ft - bt, min_border_bottom=bb - fb,
               background_fill_color="#ffffff", border_fill_color="#ffffff", outline_line_color=outline, outline_line_width=1.5)
    figs.append((p, bl, bt))
    p.grid.visible = False
    cols = color or [COL["21"], COL["22"], COL["23"], COL["24"]]
    p.vbar(x=cats, top=vals, width=barw, fill_color=cols, line_color=None)
    y = p.yaxis[0]
    y.ticker = FixedTicker(ticks=ticks)
    y.formatter = BasicTickFormatter(use_scientific=False)
    y.axis_line_color = None; y.major_tick_line_color = "#cccccc"; y.major_tick_out = 2; y.major_tick_in = 0; y.minor_tick_line_color = None
    y.major_label_text_font_size = f"{tick_size}px"; y.major_label_text_color = label_color; y.major_label_text_font = SANS
    y.major_label_standoff = 4
    x = p.xaxis[0]
    x.axis_line_color = None; x.major_tick_line_color = None; x.minor_tick_line_color = None
    x.major_tick_out = 0; x.major_tick_in = 0
    x.major_label_text_font_size = f"{cat_size}px"; x.major_label_text_color = label_color; x.major_label_text_font = SANS
    x.major_label_standoff = 4
    if titles:
        inset_titles.append(titles)
    return p

def series(d21, d22, d23, d24, dg):
    return [("g", dg), ("21", d21), ("22", d22), ("23", d23), ("24", d24)]

# (a)
cal_a = ((150.3, 859000), (462.8, 859800))
scatter_panel((41.4, 516, 126, 331), cal_a, 228.5, .26, 18.5, [0, 100, 200, 300], 7.5, A_BASE, 126, 24, series(a_21, a_22, a_23, a_24, a_gray), a_out, a_tri, 6)
phase_panel((41.4, 516, 355, 458), cal_a, 453.3, 3.4, [0, 5, 10, 15, 20, 25], [858800, 859000, 859200, 859400, 859600, 859800], 7.5, 7.5, A_BASE, 126, 24, a_phase, 1322, 124, PHASE_ORANGE)
inset((369, 519, 259, 423), (412.8, 513.8, 267.3, 393.7), 5000, [0, 1000, 2000, 3000, 4000, 5000], a_bars, titles=(464.5, 418.3, 379.3, 330))

# (b)
cal_b = ((86.6, 23450700), (439.7, 23451100))
scatter_panel((42, 516, 613, 822), cal_b, 717.7, 3.03, 1.53, [0, 10, 20, 30], 7.5, B_BASE, 63, 21, series(b_21, b_22, b_23, b_24, b_gray), b_out, b_tri, 6)
phase_panel((42, 516, 843, 948), cal_b, 942.7, 4.43, [0, 5, 10, 15, 20], [23450700, 23450800, 23450900, 23451000, 23451100], 7.6, 7.5, B_BASE, 63, 21, b_phase, 583, 63, PHASE_CYAN)
inset((373.4, 519, 743.3, 915), (412.8, 515, 754.3, 880.7), 400, [0, 80, 160, 240, 320, 400], b_bars, titles=(466.6, 905, 383.4, 818))

# (c) top
cal_c = ((685.2, 3492300), (1179.8, 3492900))
scatter_panel((666, 1212, 52, 288), cal_c, 170.8, 11, .5, [0, 3, 6, 9], 8.5, C_BASE, 66, 21, series(c_21, c_22, c_23, c_24, c_gray), c_out, c_tri, 6.5)
phase_panel((666, 1212, 316, 436), cal_c, 430.3, 8.78, [0, 2, 4, 6, 8, 10, 12], [3492300, 3492400, 3492500, 3492600, 3492700, 3492800, 3492900], 8.7, 8.5, C_BASE, 66, 21, c_phase, 721, 72, PHASE_CYAN)
inset((1071, 1216, 216.7, 378), (1109.3, 1211.4, 223.3, 349.7), 200, [0, 40, 80, 120, 160, 200], c_bars, tick_size=9, cat_size=9, titles=(1163, 374.3, 1082, 285))

# (c) lower
cal_c2 = ((783.3, 3492350), (1197, 3492750))
scatter_panel((765.4, 1213.5, 606, 800), cal_c2, 703.2, 9, .5, [0, 3, 6, 9], 7, C2_BASE, 67, 24, series(c2_21, c2_22, c2_23, c2_24, c2_gray), c2_out, c2_tri, 5.6)
phase_panel((765.4, 1213.5, 822, 921), cal_c2, 916, 3.86, [0, 5, 10, 15, 20], [3492350, 3492400, 3492450, 3492500, 3492550, 3492600, 3492650, 3492700, 3492750], 7.1, 7, C2_BASE, 67, 24, c2_phase, 495, 79, PHASE_ORANGE, hw=.7)
inset((1076.3, 1215, 721.7, 890), (1109.3, 1210.6, 732.7, 859), 50, [0, 10, 20, 30, 40, 50], c2_bars, tick_size=9.5, cat_size=9, titles=(1164, 883.7, 1084.2, 796.7))

# (d) left
cal_dl = ((44.1, 10424500), (573, 10425000))
dl_x = [10424500, 10424600, 10424700, 10424800, 10424900, 10425000]
scatter_panel((44, 613.5, 1139, 1387), cal_dl, 1263.2, .329, 16.7, [0, 100, 200, 300], 8, DL_BASE, 54, 21, series(dl_21, dl_22, dl_23, dl_24, dl_gray), dl_out, dl_tri, 6.6)
phase_panel((44, 613.5, 1414, 1540), cal_dl, 1533, 4.765, [0, 5, 10, 15, 20], dl_x, 8.9, 8.5, DL_BASE, 57, 21, dl_p21, 521, 57, PHASE_CYAN, hw=.9)
phase_panel((44, 613.5, 1569, 1693), cal_dl, 1687.3, 5.28, [0, 5, 10, 15, 20], dl_x, 8.9, 8.5, DL_BASE, 64, 24, dl_p24, 521, 58, PHASE_ORANGE, hw=.9)
inset((465.3, 616.3, 1311.7, 1477), (512.2, 611, 1320.3, 1446.7), 6000, [0, 1200, 2400, 3600, 4800, 6000], dl_bars, tick_size=9, titles=(565.3, 1469.3, 477.6, 1385))

# (d) right
cal_dr = ((669.6, 10426000), (1173, 10426600))
dr_x = [10426000, 10426100, 10426200, 10426300, 10426400, 10426500, 10426600]
scatter_panel((667, 1235.6, 1139, 1387), cal_dr, 1263.3, .126, 45, [0, 200, 400, 600, 800], 8, DR_BASE, 45, 21, series(dr_21, dr_22, dr_23, dr_24, dr_gray), dr_out, dr_tri, 6.6)
phase_panel((667, 1235.6, 1414, 1540), cal_dr, 1533, 2.02, [0, 10, 20, 30, 40, 50], dr_x, 8.9, 8.5, DR_BASE, 45, 21, dr_p21, 673, 60, PHASE_CYAN, hw=1)
phase_panel((667, 1235.6, 1569, 1693), cal_dr, 1687.3, 4.58, [0, 5, 10, 15, 20], dr_x, 8.9, 8.5, DR_BASE, 60, 24, dr_p24, 673, 60, PHASE_ORANGE, hw=1)
inset((1078, 1239.6, 1312.7, 1476), (1131, 1232.7, 1319.3, 1445.7), 200000, [0, 40000, 80000, 120000, 160000, 200000], dr_bars, tick_size=9.3, titles=(1185, 1468.3, 1087.4, 1382))
inset((1153, 1231, 1331, 1445), (1172, 1227.5, 1336, 1432), 1600, [0, 400, 800, 1200, 1600], dr_small_bars, tick_size=6.5, cat_size=6.5,
      cats=sizes[1:], color=[COL["22"], COL["23"], COL["24"]], label_color="#888888", barw=.55)

# inset titles sit on a transparent sheet above the white inset blocks
top = sheet()
for xt, yt, xv, yv in inset_titles:
    T(xt, yt, "Small RNA Size", size=10.9, align="center", on=top)
    T(xv, yv, "sRNA Abudance (RP10M)", size=10.2, align="center", angle=math.pi / 2, on=top)

# ------------------------------------------------------------------ overlapped layout
children = []
for p, x, y in figs:
    p.margin = (int(round(y)), 0, 0, int(round(x)))
    p.align = "start"
    children.append((p, 0, 0))
grid = GridBox(children=children, spacing=0)
open("out.html", "w").write(file_html(grid, INLINE))
